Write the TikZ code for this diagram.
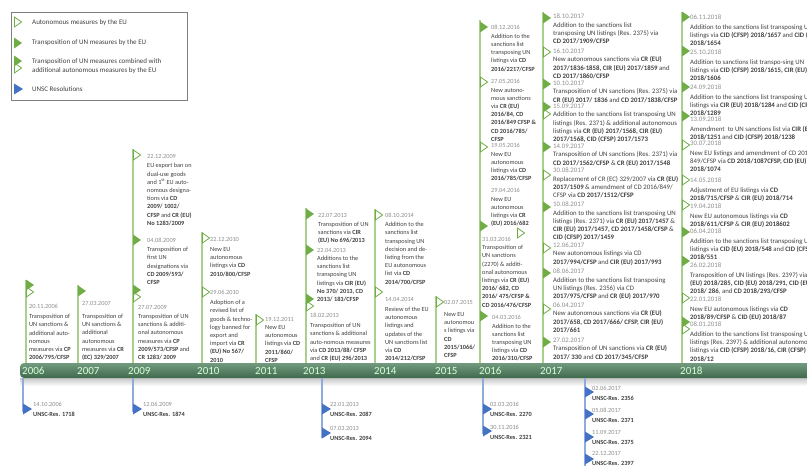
\documentclass[tikz,border=0pt]{standalone}
\usepackage{fontspec}
\setmainfont{Carlito}
\usepackage{tikz}
\usetikzlibrary{positioning}

\definecolor{dategray}{HTML}{8C8C8C}
\definecolor{txtgray}{HTML}{404040}
\definecolor{colgreen}{HTML}{A9D18E}
\definecolor{mkgreen}{HTML}{70AD47}
\definecolor{unblue}{HTML}{4472C4}
\definecolor{unline}{HTML}{8FAADC}
\definecolor{bartop}{HTML}{739A7F}
\definecolor{barbot}{HTML}{3E6A4C}

\tikzset{
  evt/.style={align=left, inner sep=0pt, anchor=north west, text=txtgray, font=\fontsize{6.3}{8.2}\selectfont},
  evtw/.style={evt, font=\fontsize{6.8}{8.2}\selectfont},
  yearlbl/.style={anchor=west, inner sep=0pt, text=white!85!green, font=\fontsize{11}{11}\selectfont},
  legtxt/.style={anchor=west, inner sep=0pt, align=left, text=txtgray, font=\fontsize{7}{9}\selectfont},
  bar/.style={minimum width=800pt, minimum height=15pt, inner sep=0pt, rounded corners=4pt, top color=bartop, bottom color=barbot},
  colline/.style={colgreen, line width=1.3pt},
  unsline/.style={unline, line width=1.3pt},
  fmk/.pic={\fill[mkgreen] (0,-5.5) -- (8,0) -- (0,5.5) -- cycle;},
  omk/.pic={\draw[mkgreen, fill=white, line width=0.8pt] (0.4,-5) -- (7.6,0) -- (0.4,5) -- cycle;},
  cmk/.pic={\draw[mkgreen, fill=white, line width=0.8pt] (0.4,2) -- (7.6,7) -- (0.4,12) -- cycle;
            \fill[mkgreen] (0,-5.5) -- (8,0) -- (0,5.5) -- cycle;},
  bmk/.pic={\fill[unblue] (0,-5.5) -- (9,0) -- (0,5.5) -- cycle;}
}

\begin{document}
\begin{tikzpicture}[x=1pt, y=-1pt]
    \useasboundingbox (0,0) rectangle (807,466);
    \clip (0,0) rectangle (807,466);

    % Legend
    \draw[gray, line width=0.8pt] (11,12) rectangle (187,100);
    \pic at (14,22) {omk};
    \node[legtxt] (leg1) at (32,22.5) {Autonomous measures by the EU};
    \pic at (14,43) {fmk};
    \node[legtxt] (leg2) at (32,43) {Transposition of UN measures by the EU};
    \pic at (14,61) {cmk};
    \node[legtxt] (leg3) at (32,66.5) {Transposition of UN measures combined with\\additional autonomous measures by the EU};
    \pic at (14,89) {bmk};
    \node[legtxt] (leg4) at (32,89) {UNSC Resolutions};

    % Time line
    \shade[top color=black!22, bottom color=white] (20,378) rectangle (807,386);
    \node[bar] (bar) at (420,370.5) {};
    \node[yearlbl] (y06) at (22,371) {2006};
    \node[yearlbl] (y07) at (77,371) {2007};
    \node[yearlbl] (y09) at (128,371) {2009};
    \node[yearlbl] (y10) at (197,371) {2010};
    \node[yearlbl] (y11) at (255,371) {2011};
    \node[yearlbl] (y13) at (303,371) {2013};
    \node[yearlbl] (y14) at (374,371) {2014};
    \node[yearlbl] (y15) at (435,371) {2015};
    \node[yearlbl] (y16) at (479,371) {2016};
    \node[yearlbl] (y17) at (540,371) {2017};
    \node[yearlbl] (y18) at (680,371) {2018};

    % Year columns
    \coordinate (t06) at (26,280);
    \coordinate (t07) at (78,285);
    \coordinate (t09) at (133,149);
    \coordinate (t10) at (202,232);
    \coordinate (t11) at (256,314);
    \coordinate (t13) at (306,208);
    \coordinate (t14) at (375,209);
    \coordinate (t15) at (436,296);
    \coordinate (t16) at (480,20);
    \coordinate (t17) at (543,12);
    \coordinate (t18) at (682,12);
    \foreach \c in {t06,t07,t09,t10,t11,t13,t14,t15,t16,t17,t18}
        \draw[colline] (\c) -- (\c |- bar.north);

    % 2006 - 2011
    \pic at (26,285) {cmk};
    \node[evt] (e061120) at (29,304) {\textcolor{dategray}{20.11.2006}\\[2pt]Transposition of\\UN sanctions \&\\additional auto-\\nomous\\measures via \textbf{CP}\\\textbf{2006/795/CFSP}};
    \pic at (78,291) {fmk};
    \node[evt] (e070327) at (82,301) {\textcolor{dategray}{27.03.2007}\\[5pt]Transposition of\\UN sanctions \&\\additional\\autonomous\\measures via \textbf{CR}\\\textbf{(EC) 329/2007}};
    \pic at (133,155) {omk};
    \node[evt] (e091222) at (147,154) {\textcolor{dategray}{22.12.2009}\\[1.5pt]EU export ban on\\dual-use goods\\and 1\textsuperscript{st} EU auto-\\nomous designa-\\tions via \textbf{CD}\\\textbf{2009/ 1002/}\\\textbf{CFSP} and \textbf{CR (EU)}\\\textbf{No 1283/2009}};
    \pic at (133,240) {fmk};
    \node[evt] (e090804) at (147,238) {\textcolor{dategray}{04.08.2009}\\[1pt]Transposition of\\first UN\\designations via\\\textbf{CD 2009/593/}\\\textbf{CFSP}};
    \pic at (133,290) {cmk};
    \node[evt] (e090727) at (138,305) {\textcolor{dategray}{27.07.2009}\\[1pt]Transposition of UN\\sanctions \& additi-\\onal autonomous\\measures via \textbf{CP}\\\textbf{2009/573/CFSP} and\\\textbf{CR 1283/ 2009}};
    \pic at (202,238) {omk};
    \node[evt] (e101222) at (210,237) {\textcolor{dategray}{22.12.2010}\\[2pt]New EU\\autonomous\\listings via \textbf{CD}\\\textbf{2010/800/CFSP}};
    \pic at (202,292) {omk};
    \node[evt] (e100629) at (210,290) {\textcolor{dategray}{29.06.2010}\\[2pt]Adoption of a\\revised list of\\goods \& techno-\\logy banned for\\export and\\import via \textbf{CR}\\\textbf{(EU) No 567/}\\\textbf{2010}};
    \pic at (256,320) {omk};
    \node[evt] (e111219) at (265,317) {\textcolor{dategray}{19.12.2011}\\New EU\\autonomous\\listings via \textbf{CD}\\\textbf{2011/860/}\\\textbf{CFSP}};

    % 2013 - 2015
    \pic at (306,214) {fmk};
    \node[evt] (e130722) at (318,213) {\textcolor{dategray}{22.07.2013}\\[1pt]Transposition of UN\\sanctions via \textbf{CIR}\\\textbf{(EU) No 696/2013}};
    \pic at (306,250) {fmk};
    \node[evt] (e130422) at (317,248) {\textcolor{dategray}{22.04.2013}\\Additions to the\\sanctions list\\transposing UN\\listings via \textbf{CIR (EU)}\\\textbf{No 370/ 2013, CD}\\\textbf{2013/ 183/CFSP}};
    \pic at (306,299) {cmk};
    \node[evt] (e130218) at (310,313) {\textcolor{dategray}{18.02.2013}\\[2pt]Transposition of UN\\sanctions \& additional\\auto-nomous measures\\via \textbf{CD 2013/88/ CFSP}\\and \textbf{CR (EU) 296/2013}};
    \pic at (375,215) {omk};
    \node[evt] (e141008) at (385,213) {\textcolor{dategray}{08.10.2014}\\[1pt]Addition to the\\sanctions list\\transposing UN\\decision and de-\\listing from the\\EU autonomous\\list via \textbf{CD}\\\textbf{2014/700/CFSP}};
    \pic at (375,292) {omk};
    \node[evt] (e140414) at (385,297) {\textcolor{dategray}{14.04.2014}\\[2pt]Review of the EU\\autonomous\\listings and\\updates of the\\UN sanctions list\\via \textbf{CD}\\\textbf{2014/212/CFSP}};
    \pic at (436,302) {omk};
    \node[evt] (e150702) at (444,300) {\textcolor{dategray}{02.07.2015}\\[4pt]New EU\\autonomou\\s listings via\\\textbf{CD}\\\textbf{2015/1066/}\\\textbf{CFSP}};

    % 2016
    \pic at (480,27) {fmk};
    \node[evt] (e161208) at (491,25) {\textcolor{dategray}{08.12.2016}\\[.5pt]Addition to the\\sanctions list\\transposing UN\\listings via \textbf{CD}\\\textbf{2016/2217/CFSP}};
    \pic at (480,82) {omk};
    \node[evt] (e160527) at (491,79) {\textcolor{dategray}{27.05.2016}\\[.5pt]New autono-\\mous sanctions\\via \textbf{CR (EU)}\\\textbf{2016/84, CD}\\\textbf{2016/849 CFSP \&}\\\textbf{CD 2016/785/}\\\textbf{CFSP}};
    \pic at (480,147) {omk};
    \node[evt] (e160519) at (491,143) {\textcolor{dategray}{19.05.2016}\\[.5pt]New EU\\autonomous\\listings via \textbf{CD}\\\textbf{2016/785/CFSP}};
    \node[evt] (e160429) at (491,188) {\textcolor{dategray}{29.04.2016}\\[.5pt]New EU\\autonomous\\listings via \textbf{CR}\\\textbf{(EU) 2016/682}};
    \pic at (480,226) {fmk};
    \pic at (517,233) {omk};
    \node[evt] (e160331) at (482,237) {\textcolor{dategray}{31.03.2016}\\Transposition of\\UN sanctions\\(2270) \& additi-\\onal autonomous\\listings via \textbf{CR (EU)}\\\textbf{2016/ 682, CD}\\\textbf{2016/ 475/CFSP \&}\\\textbf{CD 2016/476/CFSP}};
    \pic at (480,316) {fmk};
    \node[evt] (e160304) at (492,315) {\textcolor{dategray}{04.03.2016}\\[.5pt]Addition to the\\sanctions list\\transposing UN\\listings via \textbf{CD}\\\textbf{2016/310/CFSP}};

    % 2017
    \pic at (543,18) {fmk};
    \node[evtw] (e171018) at (553,14) {\textcolor{dategray}{18.10.2017}\\Addition to the sanctions list\\transposing UN listings (Res. 2375) via\\\textbf{CD 2017/1909/CFSP}};
    \pic at (543,52) {omk};
    \node[evtw] (e171016) at (553,49) {\textcolor{dategray}{16.10.2017}\\New autonomous sanctions via \textbf{CR (EU)}\\\textbf{2017/1836-1858, CIR (EU) 2017/1859} and\\\textbf{CD 2017/1860/CFSP}};
    \pic at (543,84) {fmk};
    \node[evtw] (e171010) at (553,81) {\textcolor{dategray}{10.10.2017}\\Transposition of UN sanctions (Res. 2375) via\\\textbf{CR (EU) 2017/ 1836} and \textbf{CD 2017/1838/CFSP}};
    \pic at (543,107) {cmk};
    \node[evtw] (e170915) at (553,104) {\textcolor{dategray}{15.09.2017}\\Addition to the sanctions list transposing UN\\listings (Res. 2371) \& additional autonomous\\listings via \textbf{CR (EU) 2017/1568, CIR (EU)}\\\textbf{2017/1568, CID (CFSP) 2017/1573}};
    \pic at (543,147) {fmk};
    \node[evtw] (e170914) at (553,144) {\textcolor{dategray}{14.09.2017}\\Transposition of UN sanctions (Res. 2371) via\\\textbf{CD 2017/1562/CFSP} \& \textbf{CR (EU) 2017/1548}};
    \pic at (543,175) {omk};
    \node[evtw] (e170830) at (553,168) {\textcolor{dategray}{30.08.2017}\\Replacement of CR (EC) 329/2007 via \textbf{CR (EU)}\\\textbf{2017/1509} \& amendment of CD 2016/849/\\CFSP via \textbf{CD 2017/1512/CFSP}};
    \pic at (543,207) {fmk};
    \node[evtw] (e170810) at (553,202) {\textcolor{dategray}{10.08.2017}\\Addition to the sanctions list transposing UN\\listings (Res. 2371) via \textbf{CR (EU) 2017/1457} \&\\\textbf{CIR (EU) 2017/1457, CD 2017/1458/CFSP} \&\\\textbf{CID (CFSP) 2017/1459}};
    \pic at (543,248) {omk};
    \node[evtw] (e170612) at (553,243) {\textcolor{dategray}{12.06.2017}\\New autonomous listings via CD\\\textbf{2017/994/CFSP} and \textbf{CIR (EU) 2017/993}};
    \pic at (543,273) {fmk};
    \node[evtw] (e170608) at (553,269) {\textcolor{dategray}{08.06.2017}\\Addition to the sanctions list transposing\\UN listings (Res. 2356) via CD\\\textbf{2017/975/CFSP} and \textbf{CR (EU) 2017/970}};
    \pic at (543,309) {omk};
    \node[evtw] (e170406) at (553,303) {\textcolor{dategray}{06.04.2017}\\New autonomous sanctions via \textbf{CR (EU)}\\\textbf{2017/658, CD 2017/666/ CFSP, CIR (EU)}\\\textbf{2017/661}};
    \pic at (543,342) {fmk};
    \node[evtw] (e170227) at (553,338) {\textcolor{dategray}{27.02.2017}\\Transposition of UN sanctions via \textbf{CR (EU)}\\\textbf{2017/ 330} and \textbf{CD 2017/345/CFSP}};

    % 2018
    \pic at (682,17) {fmk};
    \node[evtw] (e181106) at (690,15) {\textcolor{dategray}{06.11.2018}\\[1.5pt]Addition to the sanctions list transposing UN\\listings via \textbf{CID (CFSP) 2018/1657} and \textbf{CID (CFSP)}\\\textbf{2018/1654}};
    \pic at (682,51) {fmk};
    \node[evtw] (e181025) at (690,50) {\textcolor{dategray}{25.10.2018}\\[1.5pt]Addition to sanctions list transpo-sing UN\\listings via \textbf{CID (CFSP) 2018/1615, CIR (EU)}\\\textbf{2018/1606}};
    \pic at (682,87) {fmk};
    \node[evtw] (e180924) at (690,85) {\textcolor{dategray}{24.09.2018}\\[1.5pt]Addition to the sanctions list transposing UN\\listings via \textbf{CIR (EU) 2018/1284} and \textbf{CID (CFSP)}\\\textbf{2018/1289}};
    \pic at (682,116) {fmk};
    \node[evtw] (e180913) at (690,117) {\textcolor{dategray}{13.09.2018}\\[1.5pt]Amendment\ \ to UN sanctions list via \textbf{CIR (EU)}\\\textbf{2018/1251} and \textbf{CID (CFSP) 2018/1238}};
    \pic at (682,145) {omk};
    \node[evtw] (e180730) at (690,141) {\textcolor{dategray}{30.07.2018}\\[1.5pt]New EU listings and amendment of CD 2016/\\849/CFSP via \textbf{CD 2018/1087CFSP, CID (EU)}\\\textbf{2018/1074}};
    \pic at (682,180) {omk};
    \node[evtw] (e180514) at (690,178) {\textcolor{dategray}{14.05.2018}\\[1.5pt]Adjustment of EU listings via \textbf{CD}\\\textbf{2018/715/CFSP} \& \textbf{CIR (EU) 2018/714}};
    \pic at (682,205) {omk};
    \node[evtw] (e180419) at (690,204) {\textcolor{dategray}{19.04.2018}\\[1.5pt]New EU autonomous listings via \textbf{CD}\\\textbf{2018/611/CFSP} \& \textbf{CIR (EU) 2018602}};
    \pic at (682,232) {fmk};
    \node[evtw] (e180406) at (690,229) {\textcolor{dategray}{06.04.2018}\\[1.5pt]Addition to the sanctions list transposing UN\\listings via \textbf{CID (EU) 2018/548} and \textbf{CID (CFSP)}\\\textbf{2018/551}};
    \pic at (682,261) {fmk};
    \node[evtw] (e180226) at (690,263) {\textcolor{dategray}{26.02.2018}\\[1.5pt]Transposition of UN listings (Res. 2397) via \textbf{CIR}\\\textbf{(EU) 2018/285, CID (EU) 2018/291, CID (EU)}\\\textbf{2018/ 286}, and \textbf{CD 2018/293/CFSP}};
    \pic at (682,298) {omk};
    \node[evtw] (e180122) at (690,297) {\textcolor{dategray}{22.01.2018}\\[1.5pt]New EU autonomous listings via \textbf{CD}\\\textbf{2018/89/CFSP} \& \textbf{CID (EU) 2018/87}};
    \pic at (682,322) {cmk};
    \node[evtw] (e180108) at (690,322) {\textcolor{dategray}{08.01.2018}\\[1.5pt]Addition to the sanctions list transposing UN\\listings (Res. 2397) \& additional autonomous\\listings via \textbf{CID (CFSP) 2018/16, CIR (CFSP)}\\\textbf{2018/12}};

    % UNSC resolutions
    \coordinate (b06) at (23,412);
    \coordinate (b09) at (133,412);
    \coordinate (b13) at (322,438);
    \coordinate (b16) at (483,434);
    \coordinate (b17) at (585,466);
    \foreach \c in {b06,b09,b13,b16,b17}
        \draw[unsline] (\c |- bar.south) -- (\c);
    \pic at (23,409) {bmk};
    \node[evt] (u1718) at (33,402) {\textcolor{dategray}{14.10.2006}\\[1.8pt]\textbf{UNSC-Res. 1718}};
    \pic at (133,409) {bmk};
    \node[evt] (u1874) at (143,402) {\textcolor{dategray}{12.06.2009}\\[1.8pt]\textbf{UNSC-Res. 1874}};
    \pic at (322,409) {bmk};
    \node[evt] (u2087) at (330,402) {\textcolor{dategray}{22.01.2013}\\[1.8pt]\textbf{UNSC-Res. 2087}};
    \pic at (322,433) {bmk};
    \node[evt] (u2094) at (330,426) {\textcolor{dategray}{07.03.2013}\\[1.8pt]\textbf{UNSC-Res. 2094}};
    \pic at (483,409) {bmk};
    \node[evt] (u2270) at (490,402) {\textcolor{dategray}{02.03.2016}\\[1.8pt]\textbf{UNSC-Res. 2270}};
    \pic at (483,431) {bmk};
    \node[evt] (u2321) at (490,425) {\textcolor{dategray}{30.11.2016}\\[1.8pt]\textbf{UNSC-Res. 2321}};
    \pic at (585,392) {bmk};
    \node[evt] (u2356) at (592,386) {\textcolor{dategray}{02.06.2017}\\[1.8pt]\textbf{UNSC-Res. 2356}};
    \pic at (585,414) {bmk};
    \node[evt] (u2371) at (592,408) {\textcolor{dategray}{05.08.2017}\\[1.8pt]\textbf{UNSC-Res. 2371}};
    \pic at (585,437) {bmk};
    \node[evt] (u2375) at (592,430) {\textcolor{dategray}{11.09.2017}\\[1.8pt]\textbf{UNSC-Res. 2375}};
    \pic at (585,459) {bmk};
    \node[evt] (u2397) at (592,451) {\textcolor{dategray}{22.12.2017}\\[1.8pt]\textbf{UNSC-Res. 2397}};
\end{tikzpicture}
\end{document}
